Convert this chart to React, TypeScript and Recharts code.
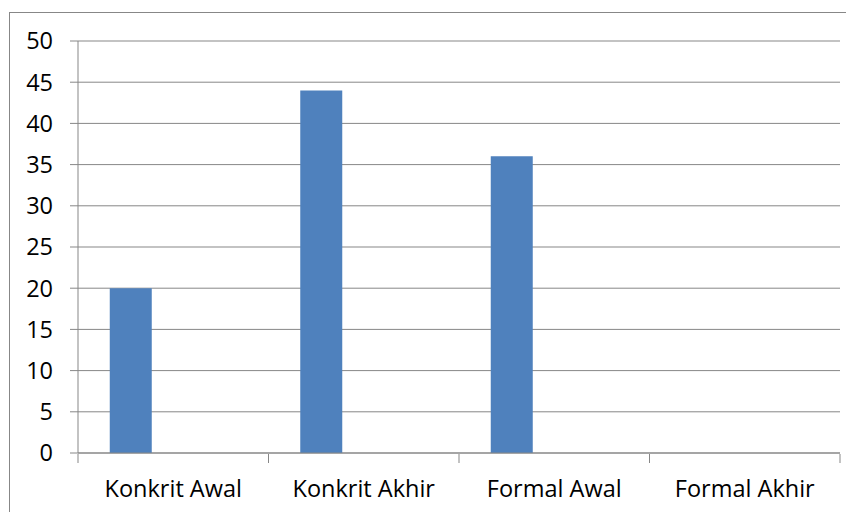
import { BarChart, Bar, XAxis, YAxis, CartesianGrid } from 'recharts'

const categories = ['Konkrit Awal', 'Konkrit Akhir', 'Formal Awal', 'Formal Akhir']
const series1 = [20, 44, 36, 0]
const series2: (number | null)[] = [null, null, null, null]
const series3: (number | null)[] = [null, null, null, null]
const yTicks = [0, 5, 10, 15, 20, 25, 30, 35, 40, 45, 50]
const boundaryTicks = [0, 1, 2, 3, 4]

const data = categories.map((name, i) => ({
  name,
  pos: i + 0.5,
  s1: series1[i],
  s2: series2[i],
  s3: series3[i],
}))

const GRAY = '#878787'
const FONT = { fontSize: 23.5, fill: '#000', fontFamily: '"Open Sans", sans-serif' }

// tick marks only, no label
const NoLabel = () => <g />

export default function App() {
  return (
    <div style={{ width: 846, height: 504, overflow: 'hidden' }}>
      <div
        style={{
          marginLeft: 1,
          marginTop: 4,
          width: 900,
          height: 600,
          border: `1px solid ${GRAY}`,
          boxSizing: 'border-box',
        }}
      >
        <BarChart
          width={860}
          height={498}
          data={data}
          margin={{ top: 28, right: 30, left: 0, bottom: 56 }}
          barCategoryGap="16.67%"
          barGap={0}
        >
          <CartesianGrid stroke={GRAY} vertical={false} />
          <XAxis
            xAxisId="cat"
            dataKey="name"
            height={1}
            tick={FONT}
            tickLine={false}
            tickSize={0}
            tickMargin={27}
            axisLine={{ stroke: GRAY }}
            interval={0}
          />
          <XAxis
            xAxisId="edge"
            dataKey="pos"
            type="number"
            domain={[0, 4]}
            ticks={boundaryTicks}
            interval={0}
            height={1}
            tick={<NoLabel />}
            tickSize={9}
            tickLine={{ stroke: GRAY }}
            axisLine={false}
          />
          <YAxis
            width={68}
            domain={[0, 50]}
            ticks={yTicks}
            tick={FONT}
            tickSize={8}
            tickMargin={17}
            tickLine={{ stroke: GRAY }}
            axisLine={{ stroke: GRAY }}
            interval={0}
          />
          <Bar xAxisId="cat" dataKey="s1" fill="#4F81BD" isAnimationActive={false} />
          <Bar xAxisId="cat" dataKey="s2" fill="#C0504D" isAnimationActive={false} />
          <Bar xAxisId="cat" dataKey="s3" fill="#9BBB59" isAnimationActive={false} />
        </BarChart>
      </div>
    </div>
  )
}
